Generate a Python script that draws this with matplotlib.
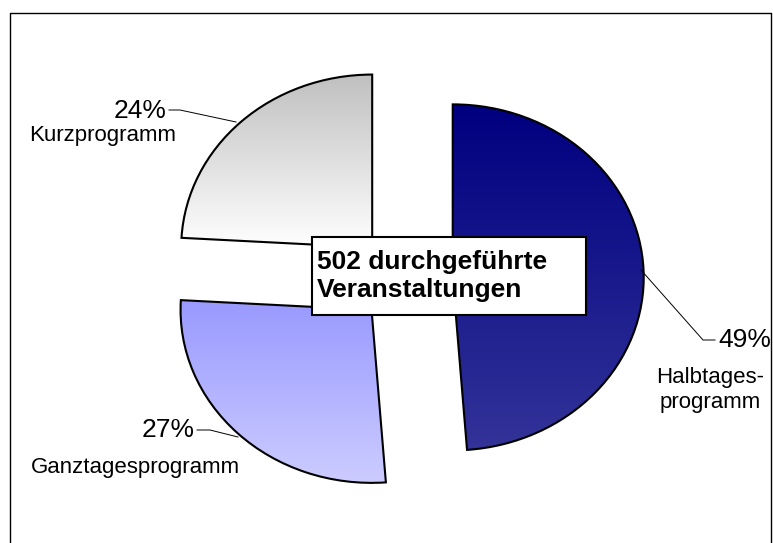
import matplotlib
matplotlib.use('Agg')
import matplotlib.pyplot as plt
import numpy as np
from matplotlib.colors import LinearSegmentedColormap
from matplotlib.patches import Rectangle
from matplotlib.lines import Line2D

plt.rcParams['font.family'] = ['Liberation Sans', 'DejaVu Sans']

# Daten
kategorien = ['Halbtages-\nprogramm', 'Ganztagesprogramm', 'Kurzprogramm']
anzahl = [245, 136, 121]  # Summe 502
farben_oben = ['#000080', '#9999ff', '#c0c0c0']
farben_unten = ['#333399', '#ccccff', '#ffffff']
titel = '502 durchgeführte\nVeranstaltungen'

W, H = 773, 543
cx, cy = 405, 279      # Mittelpunkt des Kreises in Pixel
rx, ry = 191, 173      # Radius horizontal / vertikal (Ellipse)


def px(x, y):
    # Pixel -> Datenkoordinaten
    return (x - cx) / rx, (cy - y) / ry


fig = plt.figure(figsize=(W / 100, H / 100), dpi=100)
ax = fig.add_axes([0, 0, 1, 1])

wedges, _ = ax.pie(anzahl, startangle=90, counterclock=False, explode=[0.25] * 3,
                   wedgeprops=dict(edgecolor='black', linewidth=1.5, facecolor='none'))

# Farbverlauf pro Segment
grad = np.linspace(0, 1, 256).reshape(-1, 1)
for w, c1, c2 in zip(wedges, farben_oben, farben_unten):
    bb = w.get_path().get_extents()
    cmap = LinearSegmentedColormap.from_list('verlauf', [c2, c1])
    im = ax.imshow(grad, cmap=cmap, aspect='auto', origin='lower',
                   extent=(bb.x0, bb.x1, bb.y0, bb.y1), zorder=0.5)
    im.set_clip_path(w)

ax.set_aspect('auto')
ax.set_xlim(px(0, 0)[0], px(W, 0)[0])
ax.set_ylim(px(0, H)[1], px(0, 0)[1])
ax.axis('off')

# Beschriftungen
summe = sum(anzahl)
prozent = ['%d%%' % round(100 * v / summe) for v in anzahl]

# Halbtages
ax.plot(*zip(*[px(641, 270), px(703, 340), px(715, 340)]), color='black', lw=0.7)
ax.text(*px(718, 340), prozent[0], fontsize=19, ha='left', va='center')
ax.text(*px(710, 390), kategorien[0], fontsize=16, ha='center', va='center',
        multialignment='center', linespacing=1.25)
# Ganztages
ax.plot(*zip(*[px(197, 430), px(210, 430), px(238, 437)]), color='black', lw=0.7)
ax.text(*px(195, 430), prozent[1], fontsize=19, ha='right', va='center')
ax.text(*px(135, 467), kategorien[1], fontsize=16, ha='center', va='center')
# Kurz
ax.plot(*zip(*[px(169, 110), px(180, 110), px(236, 122)]), color='black', lw=0.7)
ax.text(*px(167, 111), prozent[2], fontsize=19, ha='right', va='center')
ax.text(*px(103, 135), kategorien[2], fontsize=16, ha='center', va='center')

# Kasten in der Mitte
x0, y0 = px(312, 315)
ax.add_patch(Rectangle((x0, y0), (586 - 312) / rx, (315 - 237) / ry,
                       facecolor='white', edgecolor='black', lw=1.5, zorder=3))
ax.text(*px(317, 276), titel, fontsize=19, fontweight='bold', ha='left',
        va='center', linespacing=1.2, zorder=4)

# Rahmen
fig.add_artist(Line2D([10 / W, 10 / W, 771 / W, 771 / W], [0, 1 - 13 / H, 1 - 13 / H, 0],
                      color='black', lw=1))

fig.savefig('out.png', dpi=100)
